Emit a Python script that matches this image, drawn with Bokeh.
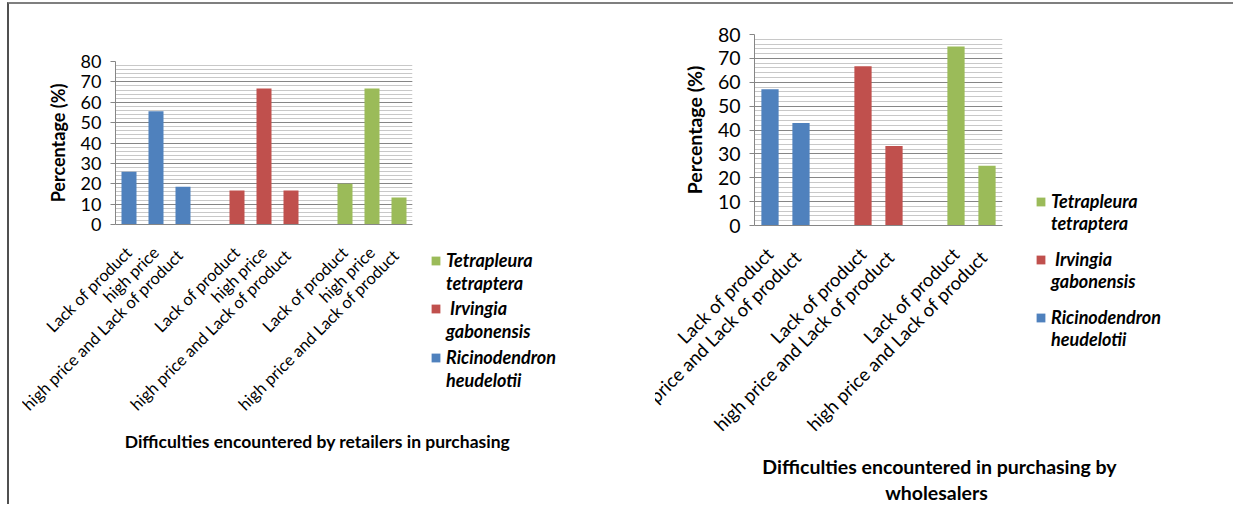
from math import pi
from bokeh.plotting import figure
from bokeh.models import (Range1d, FixedTicker, SingleIntervalTicker, Legend, LegendItem,
                          Label, Spacer)
from bokeh.layouts import row, column
from bokeh.embed import file_html
from bokeh.resources import INLINE

FONT = "Lato"

# ---------------- data ----------------
series_first_lines = ["Ricinodendron", " Irvingia", "Tetrapleura"]
series_second_lines = ["heudelotii", "gabonensis", "tetraptera"]
series_colors = ["#4F81BD", "#C0504D", "#9BBB59"]

retail_categories = ["Lack of product", "high price", "high price  and Lack of product"]
retail_ricinodendron = [25.9, 55.6, 18.5]
retail_irvingia = [16.7, 66.7, 16.7]
retail_tetrapleura = [20.0, 66.7, 13.3]
retail_title = ["Difficulties encountered by retailers in purchasing"]

wholesale_categories = ["Lack of product", "high price  and Lack of product"]
wholesale_ricinodendron = [57.1, 42.9]
wholesale_irvingia = [66.7, 33.3]
wholesale_tetrapleura = [75.0, 25.0]
wholesale_title = ["Difficulties encountered in purchasing by", "wholesalers"]

y_label = "Percentage (%)"
y_max = 80
y_step = 10


def blank_fig(w, h):
    p = figure(width=w, height=h, output_backend="svg", toolbar_location=None,
               x_axis_location=None, y_axis_location=None, min_border=0,
               frame_align=False)
    p.outline_line_color = None
    p.grid.visible = False
    p.background_fill_color = "white"
    p.border_fill_color = "white"
    return p


def make_chart(categories, values_by_series, canvas_w, canvas_h, frame_left, frame_top,
               frame_w, frame_h, xlab_size, tick_size, ylab_size):
    n = len(categories)
    n_slots = len(values_by_series) * (n + 1) - 1
    p = figure(width=canvas_w, height=canvas_h, output_backend="svg", toolbar_location=None,
               x_range=Range1d(-0.5, n_slots - 0.5), y_range=Range1d(0, y_max),
               min_border_left=frame_left, min_border_top=frame_top,
               min_border_right=canvas_w - frame_left - frame_w,
               min_border_bottom=canvas_h - frame_top - frame_h,
               frame_align=False)
    p.outline_line_color = None
    p.background_fill_color = "white"
    p.border_fill_color = "white"

    ticks, overrides = [], {}
    for g, (vals, color) in enumerate(zip(values_by_series, series_colors)):
        xs = [g * (n + 1) + k for k in range(n)]
        p.vbar(x=xs, top=vals, width=0.556, fill_color=color, line_color=None)
        for xk, c in zip(xs, categories):
            ticks.append(xk)
            overrides[xk] = c

    xa = p.xaxis[0]
    xa.ticker = FixedTicker(ticks=ticks)
    xa.major_label_overrides = overrides
    xa.major_label_orientation = pi / 4
    xa.major_label_text_font = FONT
    xa.major_label_text_font_size = xlab_size
    xa.major_label_text_color = "black"
    xa.major_tick_line_color = None
    xa.minor_tick_line_color = None
    xa.axis_line_color = "#868686"
    xa.major_label_standoff = 19
    p.xgrid.grid_line_color = None

    ya = p.yaxis[0]
    ya.ticker = SingleIntervalTicker(interval=y_step, num_minor_ticks=5)
    ya.axis_line_color = "#868686"
    ya.major_tick_line_color = "#868686"
    ya.major_tick_out = 5
    ya.major_tick_in = 0
    ya.minor_tick_line_color = None
    ya.major_label_text_font = FONT
    ya.major_label_text_font_size = tick_size
    ya.major_label_text_color = "black"
    ya.major_label_standoff = 9
    ya.axis_label = y_label
    ya.axis_label_text_font = FONT
    ya.axis_label_text_font_size = ylab_size
    ya.axis_label_text_font_style = "bold"
    ya.axis_label_text_color = "black"
    ya.axis_label_standoff = 9
    p.ygrid.grid_line_color = "#868686"
    p.ygrid.minor_grid_line_color = "#c8c8c8"
    return p


def make_legend(w, h, x0, first_line_tops, pitch_gap):
    """Legend panel: one small legend per species (first line with swatch, second line without)."""
    p = blank_fig(w, h)
    order = list(reversed(range(len(series_colors))))  # Tetrapleura, Irvingia, Ricinodendron
    item_h = 22
    for top, i in zip(first_line_tops, order):
        r1 = p.vbar(x=[0], top=[0], width=0, fill_color=series_colors[i], line_color=None)
        r2 = p.vbar(x=[0], top=[0], width=0, fill_alpha=0, line_alpha=0)
        lg = Legend(items=[LegendItem(label=series_first_lines[i], renderers=[r1]),
                           LegendItem(label=series_second_lines[i], renderers=[r2])],
                    location=(x0, h - top - (2 * item_h + pitch_gap)),
                    padding=0, margin=0, spacing=pitch_gap,
                    glyph_width=11, glyph_height=11, label_height=item_h,
                    label_standoff=5, border_line_color=None, background_fill_alpha=0,
                    label_text_font=FONT, label_text_font_size="18px",
                    label_text_font_style="bold italic", label_text_color="black")
        p.add_layout(lg)
    return p


def make_title(w, h, lines, centers, size):
    p = blank_fig(w, h)
    for text, (cx, cy) in zip(lines, centers):
        p.add_layout(Label(x=cx, y=h - cy, x_units="screen", y_units="screen", text=text,
                           text_align="center", text_baseline="middle", text_font=FONT,
                           text_font_size=size, text_font_style="bold", text_color="black"))
    return p


# left block: page x 22..655, y 4..504
left_chart = make_chart(retail_categories,
                        [retail_ricinodendron, retail_irvingia, retail_tetrapleura],
                        406, 424, 93, 57, 297, 163, "16.5px", "18px", "18px")
left_legend = make_legend(227, 424, 2, [245, 293, 342], 1)
left_title = make_title(633, 76, retail_title, [(295, 13)], "17.5px")
left_block = column(row(left_chart, left_legend), left_title)

# right block: page x 655..1233
right_chart = make_chart(wholesale_categories,
                         [wholesale_ricinodendron, wholesale_irvingia, wholesale_tetrapleura],
                         375, 448, 99, 30, 248, 191, "18.5px", "19.5px", "19.5px")
right_legend = make_legend(203, 448, 5, [186, 244, 302], 0)
right_title = make_title(578, 52, wholesale_title, [(284, 14), (281, 40)], "19.5px")
right_block = column(row(right_chart, right_legend), right_title)

inner = row(Spacer(width=13, height=500), left_block, right_block,
            styles={"border-top": "2px solid #7f7f7f", "border-left": "2px solid #505050"})
layout = column(Spacer(width=1226, height=2), row(Spacer(width=7, height=502), inner))

open("out.html", "w").write(file_html(layout, INLINE))
